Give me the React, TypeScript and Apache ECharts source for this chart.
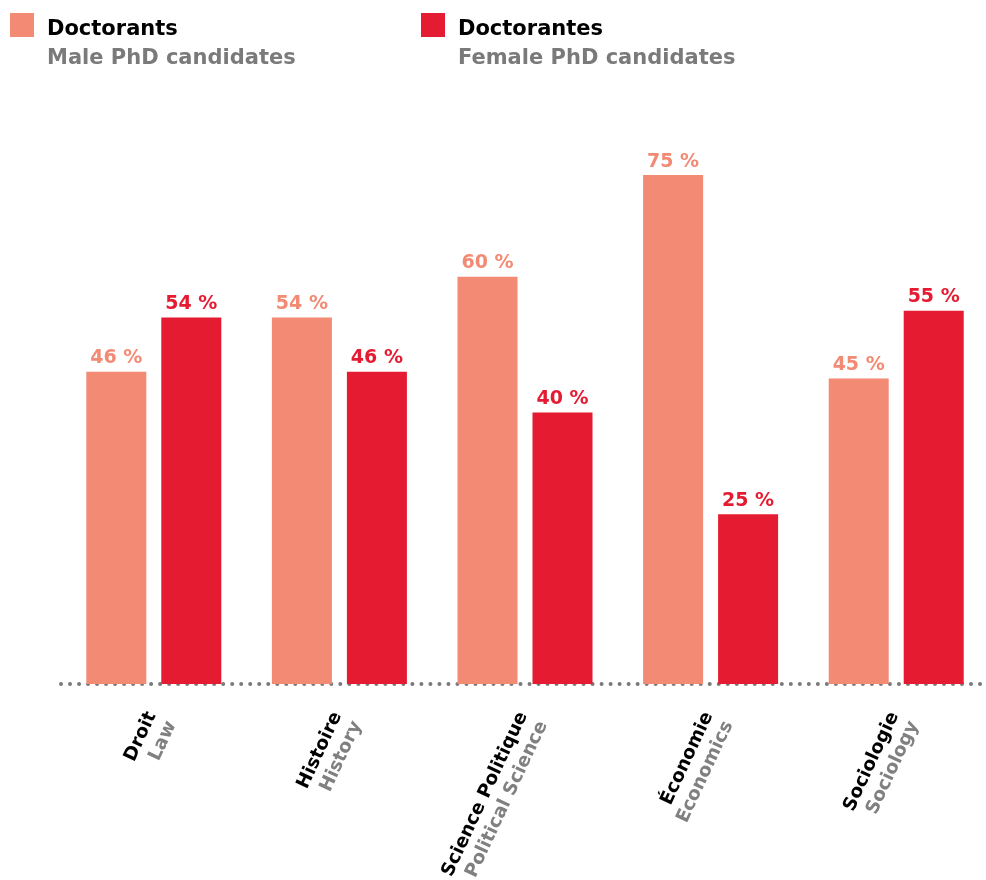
import React, { useEffect, useRef } from "react";
import * as echarts from "echarts";

const categoriesFr = ["Droit", "Histoire", "Science Politique", "Économie", "Sociologie"];
const categoriesEn = ["Law", "History", "Political Science", "Economics", "Sociology"];
const maleValues = [46, 54, 60, 75, 45];
const femaleValues = [54, 46, 40, 25, 55];
const legendFr = ["Doctorants", "Doctorantes"];
const legendEn = ["Male PhD candidates", "Female PhD candidates"];

const MALE = "#f28a74";
const FEMALE = "#e41b31";
const GRAY = "#7a7a7a";
const FONT = "DejaVu Sans";

export default function App() {
  const ref = useRef<HTMLDivElement>(null);
  useEffect(() => {
    if (!ref.current) return;
    const chart = echarts.init(ref.current, null, { renderer: "svg" });
    const legendItem = (x: number, color: string, i: number) => ({
      type: "group",
      children: [
        { type: "rect", shape: { x, y: 13, width: 24, height: 24 }, style: { fill: color } },
        {
          type: "text", x: x + 37, y: 28,
          style: { text: legendFr[i], fill: "#000", font: `bold 21px '${FONT}'`, verticalAlign: "middle" },
        },
        {
          type: "text", x: x + 37, y: 57,
          style: { text: legendEn[i], fill: GRAY, font: `bold 21px '${FONT}'`, verticalAlign: "middle" },
        },
      ],
    });
    const barLabel = (color: string) => ({
      show: true, position: "top", distance: 6, formatter: "{c} %",
      color, fontWeight: "bold", fontSize: 19, fontFamily: FONT,
    });
    chart.setOption({
      animation: false,
      textStyle: { fontFamily: FONT },
      graphic: [legendItem(10, MALE, 0), legendItem(421, FEMALE, 1)],
      grid: { left: 61, width: 928, top: 175, height: 509, outerBoundsMode: "none", containLabel: false },
      xAxis: {
        type: "category",
        data: categoriesFr,
        axisTick: { show: false },
        axisLine: {
          show: true,
          lineStyle: { color: GRAY, width: 4, type: [0.01, 9], cap: "round" },
        },
        axisLabel: {
          interval: 0,
          rotate: 65,
          margin: 30,
          padding: [14, 0, 0, 0],
          formatter: (v: string, i: number) => `{fr|${v}}\n{en|${categoriesEn[i]}}`,
          rich: {
            fr: { fontFamily: FONT, fontWeight: "bold", fontSize: 18.5, lineHeight: 22, color: "#000" },
            en: { fontFamily: FONT, fontWeight: "bold", fontSize: 18.5, lineHeight: 22, color: "#808080" },
          },
        },
      },
      yAxis: { type: "value", min: 0, max: 75, show: false, splitLine: { show: false } },
      series: [
        {
          type: "bar",
          name: legendFr[0],
          data: maleValues,
          barWidth: 60,
          barGap: "25%",
          itemStyle: { color: MALE },
          label: barLabel(MALE),
        },
        {
          type: "bar",
          name: legendFr[1],
          data: femaleValues,
          barWidth: 60,
          barGap: "25%",
          itemStyle: { color: FEMALE },
          label: barLabel(FEMALE),
        },
      ],
    });
    return () => chart.dispose();
  }, []);
  return <div ref={ref} style={{ position: "fixed", left: 0, top: 0, width: 986, height: 880 }} />;
}
